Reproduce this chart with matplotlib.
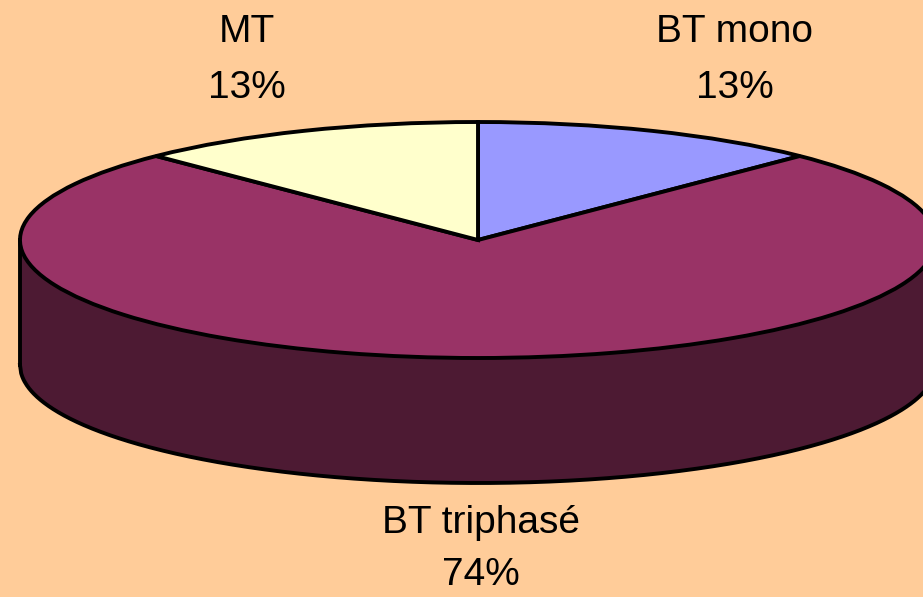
"""3D-looking pie: flattened pie on a stretched axes, with a dark wall below it."""
import numpy as np
import matplotlib
matplotlib.use("Agg")
import matplotlib.pyplot as plt

plt.rcParams["font.family"] = ["Liberation Sans", "DejaVu Sans"]

categories = ["BT mono", "BT triphasé", "MT"]
printed_shares = ["13%", "74%", "13%"]
# slice sizes as measured from the edges in the picture, printed labels are rounded differently
shares = [12.4, 75.2, 12.4]
colors = ["#9999FF", "#993366", "#FFFFCC"]
wall_color = "#4D1A33"
background = "#FFCC99"

W, H = 923, 597
cx, cy = 478, 240   # pie centre, px
rx, ry = 458, 118   # pie radii, px
depth = 125 / ry    # wall height in y units
lw = 2.8

fig = plt.figure(figsize=(W / 100, H / 100), dpi=100, facecolor=background)
ax = fig.add_axes([0, 0, 1, 1])

# wall first, top face goes over it
xs = np.linspace(-1, 1, 801)
rim = -np.sqrt(1 - xs ** 2)
ax.fill_between(xs, rim, rim - depth, facecolor=wall_color, edgecolor="none", zorder=1)
ax.plot(xs, rim - depth, color="black", lw=lw, zorder=2)
ax.plot([-1, -1], [0, -depth], color="black", lw=lw, zorder=2)
ax.plot([1, 1], [0, -depth], color="black", lw=lw, zorder=2)

ax.pie(shares, colors=colors, startangle=90, counterclock=False, radius=1,
       wedgeprops=dict(edgecolor="black", linewidth=lw, zorder=3))

ax.set_aspect("auto")
ax.set_xlim(-cx / rx, (W - cx) / rx)
ax.set_ylim(-(H - cy) / ry, cy / ry)

# labels sit outside the pie, placed in figure pixels; the bottom one is tighter to stay on the canvas
label_pos = [(735, 60), (481, 549), (247, 60)]
spacing = [1.72, 1.58, 1.72]
for name, share, (px, py), ls in zip(categories, printed_shares, label_pos, spacing):
    ax.text(px / W, 1 - py / H, f"{name}\n{share}", transform=ax.transAxes,
            ha="center", va="center", fontsize=28, color="black", linespacing=ls,
            zorder=5)

fig.savefig("out.png", dpi=100, facecolor=background)
